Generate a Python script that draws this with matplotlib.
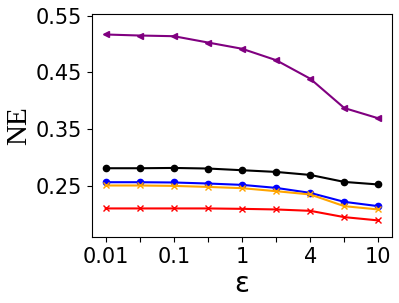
import matplotlib
matplotlib.use('Agg')
import matplotlib.pyplot as plt
import numpy as np

eps_labels = ['0.01', '', '0.1', '', '1', '', '4', '', '10']

purple = [0.5166, 0.5148, 0.5136, 0.5025, 0.4915, 0.4714, 0.4388, 0.3871, 0.3690]
black = [0.2811, 0.2811, 0.2816, 0.2806, 0.2776, 0.2746, 0.2693, 0.2570, 0.2525]
blue = [0.2565, 0.2565, 0.2560, 0.2542, 0.2518, 0.2465, 0.2377, 0.2219, 0.2143]
orange = [0.2507, 0.2507, 0.2500, 0.2482, 0.2460, 0.2407, 0.2349, 0.2143, 0.2085]
red = [0.2103, 0.2103, 0.2103, 0.2103, 0.2096, 0.2085, 0.2061, 0.1950, 0.1892]

x = np.arange(len(eps_labels))

fig = plt.figure(figsize=(3.99, 3.03), dpi=100)
ax = fig.add_axes([0.2306, 0.2178, 0.7519, 0.736])

ax.plot(x, purple, color='purple', marker='<', markersize=5, linewidth=1.5)
ax.plot(x, black, color='black', marker='o', markersize=4.5, linewidth=1.5)
ax.plot(x, blue, color='blue', marker='o', markersize=4.5, linewidth=1.5)
ax.plot(x, orange, color='orange', marker='x', markersize=5, linewidth=1.5)
ax.plot(x, red, color='red', marker='x', markersize=5, linewidth=1.5)

ax.set_xticks(x)
ax.set_xticklabels(eps_labels, fontsize=15)
ax.set_yticks([0.25, 0.35, 0.45, 0.55])
ax.set_yticklabels(['0.25', '0.35', '0.45', '0.55'], fontsize=15)
ax.set_ylim(0.16, 0.5527)

ax.set_xlabel('ε', fontsize=20, labelpad=2)
ax.set_ylabel('NE', fontsize=21, family='Liberation Serif', labelpad=3)

fig.savefig('out.png', dpi=100)
